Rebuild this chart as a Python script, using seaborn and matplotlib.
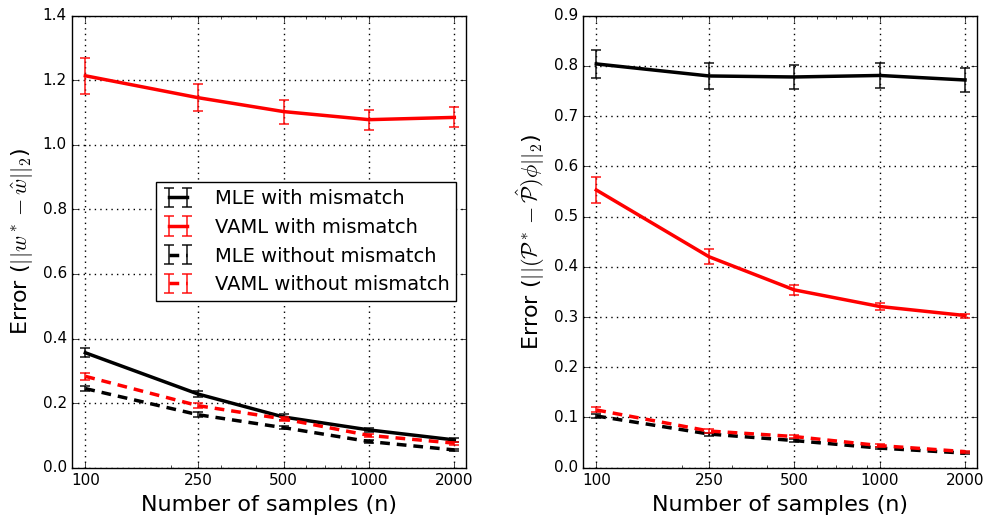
import numpy as np
import pandas as pd
import matplotlib
matplotlib.use("Agg")
import matplotlib.pyplot as plt
import seaborn as sns
from matplotlib.container import ErrorbarContainer
from matplotlib.ticker import NullFormatter

# Sample sizes
n_samples = [100, 250, 500, 1000, 2000]
tick_labels = ["100", "250", "500", "1000", "2000"]

# Parameter error ||w* - w_hat||_2
w_mle_mis = [0.356, 0.228, 0.157, 0.117, 0.086]
w_mle_mis_err = [0.014, 0.010, 0.008, 0.006, 0.005]
w_vaml_mis = [1.214, 1.146, 1.103, 1.078, 1.085]
w_vaml_mis_err = [0.055, 0.042, 0.037, 0.031, 0.031]
w_mle_nomis = [0.245, 0.164, 0.124, 0.081, 0.055]
w_mle_nomis_err = [0.009, 0.007, 0.005, 0.004, 0.004]
w_vaml_nomis = [0.283, 0.192, 0.151, 0.100, 0.076]
w_vaml_nomis_err = [0.011, 0.008, 0.006, 0.005, 0.005]

# Model error ||(P* - P_hat) phi||_2
p_mle_mis = [0.804, 0.780, 0.778, 0.781, 0.772]
p_mle_mis_err = [0.028, 0.026, 0.024, 0.025, 0.024]
p_vaml_mis = [0.553, 0.420, 0.354, 0.321, 0.303]
p_vaml_mis_err = [0.025, 0.015, 0.010, 0.0065, 0.004]
p_mle_nomis = [0.103, 0.067, 0.054, 0.039, 0.029]
p_mle_nomis_err = [0.004, 0.003, 0.003, 0.002, 0.002]
p_vaml_nomis = [0.115, 0.073, 0.062, 0.044, 0.032]
p_vaml_nomis_err = [0.005, 0.004, 0.003, 0.003, 0.002]

labels = ["MLE with mismatch", "VAML with mismatch",
          "MLE without mismatch", "VAML without mismatch"]
colors = ["black", "red", "black", "red"]
styles = ["-", "-", (0, (7, 5)), (0, (7, 5))]

plt.style.use("classic")
plt.rcParams["mathtext.fontset"] = "cm"
plt.rcParams["lines.scale_dashes"] = False
plt.rcParams["font.family"] = ["DejaVu Sans"]

fig = plt.figure(figsize=(9.87, 5.2), dpi=100, facecolor="white")
ax1 = fig.add_axes([0.0733, 0.1006, 0.3989, 0.8692])
ax2 = fig.add_axes([0.5910, 0.1006, 0.3986, 0.8692])


def draw_panel(ax, series, errors, ylim, yticks, ylabel, legend=False):
    handles = []
    for vals, errs, lab, col, ls in zip(series, errors, labels, colors, styles):
        df = pd.DataFrame({"n": n_samples, "err": vals})
        sns.lineplot(data=df, x="n", y="err", ax=ax, color=col, linestyle=ls,
                     linewidth=2.5, errorbar=None, legend=False)
        line = ax.get_lines()[-1]
        eb = ax.errorbar(n_samples, vals, yerr=errs, fmt="none", ecolor=col,
                         elinewidth=1.2, capsize=3.5, capthick=1.2, alpha=0.85)
        handles.append(ErrorbarContainer((line, eb.lines[1], eb.lines[2]),
                                         has_xerr=False, has_yerr=True, label=lab))
    ax.set_xscale("log")
    ax.set_xlim(90, 2200)
    ax.set_xticks(n_samples)
    ax.set_xticklabels(tick_labels)
    ax.xaxis.set_minor_formatter(NullFormatter())
    ax.set_ylim(*ylim)
    ax.set_yticks(yticks)
    ax.set_yticklabels([f"{t:.1f}" for t in yticks])
    ax.tick_params(axis="both", which="major", labelsize=11, direction="in",
                   length=4, top=True, right=True)
    ax.tick_params(axis="both", which="minor", direction="in", length=2,
                   top=True, right=True)
    ax.grid(True, which="major", color="black", linestyle=":", linewidth=1)
    ax.set_axisbelow(True)
    ax.set_xlabel("Number of samples (n)", fontsize=16)
    ax.set_ylabel(ylabel, fontsize=16)
    if legend:
        leg = ax.legend(handles=handles, labels=labels, loc="center right",
                        fontsize=14, numpoints=2, handlelength=1.5,
                        handletextpad=1.15, labelspacing=0.5,
                        borderpad=0.35, fancybox=False, frameon=True)
        leg.get_frame().set_edgecolor("black")


draw_panel(ax1,
           [w_mle_mis, w_vaml_mis, w_mle_nomis, w_vaml_nomis],
           [w_mle_mis_err, w_vaml_mis_err, w_mle_nomis_err, w_vaml_nomis_err],
           (0, 1.4), np.arange(0, 1.41, 0.2),
           r"Error ($||w^* - \hat{w}||_2$)", legend=True)
draw_panel(ax2,
           [p_mle_mis, p_vaml_mis, p_mle_nomis, p_vaml_nomis],
           [p_mle_mis_err, p_vaml_mis_err, p_mle_nomis_err, p_vaml_nomis_err],
           (0, 0.9), np.arange(0, 0.91, 0.1),
           r"Error ($||(\mathcal{P}^* - \hat{\mathcal{P}})\phi||_2$)")

fig.savefig("out.png", dpi=100, facecolor="white")
